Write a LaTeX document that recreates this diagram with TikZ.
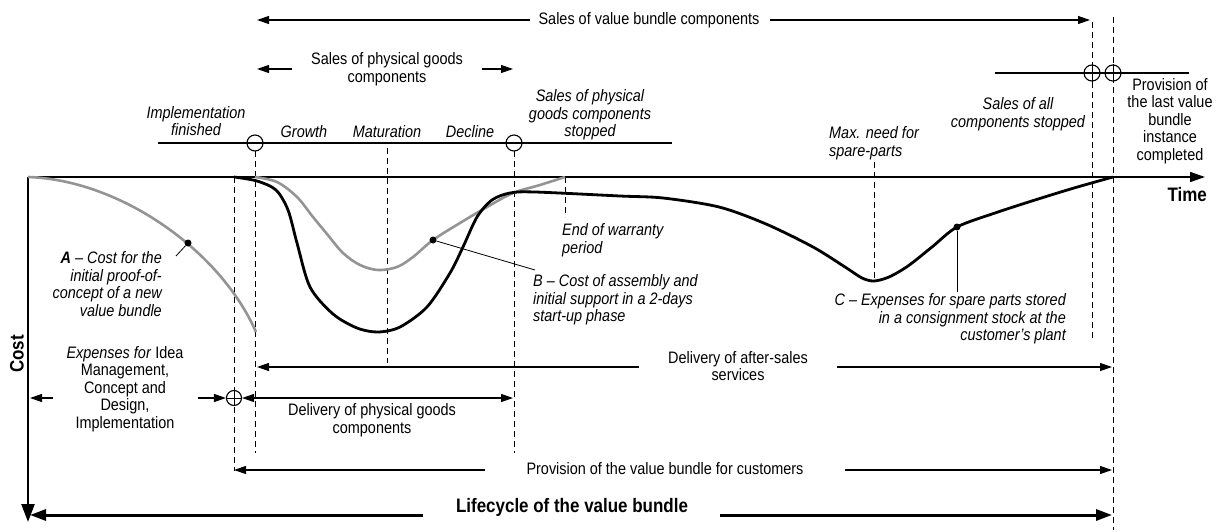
\documentclass[tikz,border=0pt]{standalone}
\usepackage{fontspec}
\setmainfont[FakeStretch=0.87]{Liberation Sans}
\usetikzlibrary{arrows.meta}
\begin{document}
\begin{tikzpicture}[x=1pt,y=-1pt,
  txt/.style={font=\fontsize{16.6}{17.5}\selectfont, inner sep=0pt, align=center},
  itx/.style={font=\fontsize{16.6}{17.5}\selectfont\itshape, inner sep=0pt, align=center},
  bld/.style={font=\fontsize{19.5}{21}\selectfont\bfseries, inner sep=0pt},
  arr/.style={line width=1.2pt, -{Triangle[length=12pt,width=8pt]}},
  bigarr/.style={line width=3pt, -{Triangle[length=16pt,width=11pt]}},
  dsh/.style={line width=0.9pt, dash pattern=on 6pt off 4pt},
  circ/.style={circle, draw, line width=1.1pt, minimum size=16pt, inner sep=0pt},
  dot/.style={circle, fill=black, minimum size=7pt, inner sep=0pt},
  thinl/.style={line width=1.2pt},
  grayc/.style={line width=2.6pt, color=black!42},
  blackc/.style={line width=2.8pt, color=black}
]
\useasboundingbox (0,0) rectangle (1220,532);

% ---------- axes ----------
\coordinate (O) at (28,177);
\coordinate (TimeTip) at (1205,177);
\coordinate (CostTip) at (28,522);
\draw[line width=1.5pt, -{Triangle[length=15pt,width=10pt]}] (O) -- (TimeTip);
\draw[line width=2.6pt, -{Triangle[length=18pt,width=13pt]}] (O) -- (CostTip);
\node[bld, anchor=east] (time) at (1207,195) {Time};
\node[bld, rotate=90] (cost) at (17,354) {Cost};

% ---------- vertical dashed lines ----------
\coordinate (d1t) at (234,177); \coordinate (d1b) at (234,471);
\coordinate (d2t) at (255,151); \coordinate (d2b) at (255,453);
\coordinate (d3t) at (387,148); \coordinate (d3b) at (387,363);
\coordinate (d4t) at (514,151); \coordinate (d4b) at (514,453);
\coordinate (d5t) at (565,177); \coordinate (d5b) at (565,217);
\coordinate (d6t) at (874,162); \coordinate (d6b) at (874,280);
\coordinate (d7t) at (1092,22); \coordinate (d7b) at (1092,338);
\coordinate (d8t) at (1113,17); \coordinate (d8b) at (1113,530);
\foreach \i in {1,...,8} {\draw[dsh] (d\i t) -- (d\i b);}

% ---------- curves ----------
\draw[grayc] (28,177) .. controls (120,180) and (220,250) .. (256,332);
\draw[grayc] plot[smooth, tension=0.55] coordinates {(255,177) (277,182) (297,197) (313,217) (327,234) (343,253) (360,265) (378,270) (397,267) (413,257) (433,240) (460,223) (487,207) (513,193) (540,185) (565,177)};
\draw[blackc] plot[smooth, tension=0.5] coordinates {(234,177) (257,181) (276,190) (288,210) (297,243) (310,287) (333,314) (357,328) (378,332) (400,327) (427,307) (450,273) (463,247) (477,217) (492,200) (510,193) (535,192) (620,196) (663,198) (719,207) (766,224) (813,247) (845,267) (862,278) (874,281) (889,277) (908,266) (932,247) (957,227) (995,213) (1035,200) (1074,188) (1113,177)};

% ---------- points and leaders ----------
\node[dot] (dA) at (188,243) {};
\node[dot] (dB) at (433,240) {};
\node[dot] (dC) at (957,227) {};
\coordinate (lA) at (176,256);
\coordinate (lB) at (535,270);
\coordinate (lC) at (957,292);
\draw[line width=0.8pt] (dA) -- (lA);
\draw[line width=0.8pt] (dB) -- (lB);
\draw[line width=0.8pt] (dC) -- (lC);

\node[itx, anchor=east, align=right] (labA) at (162,284) {\textbf{A} -- Cost for the\\initial proof-of-\\concept of a new\\value bundle};
\node[itx, anchor=west, align=left] (labB) at (533,300) {B -- Cost of assembly and\\initial support in a 2-days\\start-up phase};
\node[itx, anchor=east, align=right] (labC) at (1066,319) {C -- Expenses for spare parts stored\\in a consignment stock at the\\customer's plant};
\node[itx, anchor=west, align=left] (warr) at (562,240) {End of warranty\\period};
\node[itx, anchor=west, align=left] (maxn) at (829,143) {Max. need for\\spare-parts};

% ---------- upper timeline ----------
\coordinate (tl1) at (158,143); \coordinate (tl2) at (672,143);
\draw[thinl] (tl1) -- (tl2);
\node[circ] (c1) at (255,143) {};
\node[circ] (c2) at (514,143) {};
\node[itx] (impl) at (196,121) {Implementation\\finished};
\node[itx] (grow) at (304,132) {Growth};
\node[itx] (matu) at (387,132) {Maturation};
\node[itx] (decl) at (470,132) {Decline};
\node[itx] (spgs) at (590,115) {Sales of physical\\goods components\\stopped};

% ---------- right timeline ----------
\coordinate (tr1) at (995,73); \coordinate (tr2) at (1189,73);
\draw[thinl] (tr1) -- (tr2);
\node[circ] (c3) at (1092,73) {};
\node[circ] (c4) at (1113,73) {};
\draw[line width=0.9pt] (c3.north) -- (c3.south);
\draw[line width=0.9pt] (c4.north) -- (c4.south);
\node[itx] (sall) at (1018,114) {Sales of all\\components stopped};
\node[txt] (prov) at (1170,121) {Provision of\\the last value\\bundle\\instance\\completed};

% ---------- top arrows ----------
\node[txt] (svb) at (649,20) {Sales of value bundle components};
\coordinate (svbL) at (257,20); \coordinate (svbLa) at (530,20);
\coordinate (svbR) at (1090,20); \coordinate (svbRa) at (770,20);
\draw[arr] (svbLa) -- (svbL);
\draw[arr] (svbRa) -- (svbR);

\node[txt] (spg) at (387,69) {Sales of physical goods\\components};
\coordinate (spgL) at (257,69); \coordinate (spgLa) at (292,69);
\coordinate (spgR) at (513,69); \coordinate (spgRa) at (482,69);
\draw[arr] (spgLa) -- (spgL);
\draw[arr] (spgRa) -- (spgR);

% ---------- lower arrows ----------
\node[txt] (exp) at (125,389) {\textit{Expenses for} Idea\\Management,\\Concept and\\Design,\\Implementation};
\node[circ, minimum size=15pt] (c5) at (234,398) {};
\draw[line width=0.9pt] (c5.north) -- (c5.south);
\draw[line width=0.9pt] (c5.west) -- (c5.east);
\coordinate (eL) at (30,398); \coordinate (eLa) at (53,398);
\coordinate (eRa) at (198,398);
\draw[arr] (eLa) -- (eL);
\draw[arr] (eRa) -- (c5.west);

\coordinate (dpR) at (513,398);
\draw[arr, {Triangle[length=12pt,width=8pt]}-{Triangle[length=12pt,width=8pt]}] (c5.east) -- (dpR);
\node[txt] (dpg) at (372,420) {Delivery of physical goods\\components};

\node[txt] (das) at (738,366) {Delivery of after-sales\\services};
\coordinate (dasL) at (257,367); \coordinate (dasLa) at (639,367);
\coordinate (dasR) at (1112,367); \coordinate (dasRa) at (837,367);
\draw[arr] (dasLa) -- (dasL);
\draw[arr] (dasRa) -- (dasR);

\node[txt] (pvb) at (665,469) {Provision of the value bundle for customers};
\coordinate (pvbL) at (234,470); \coordinate (pvbLa) at (485,470);
\coordinate (pvbR) at (1112,470); \coordinate (pvbRa) at (845,470);
\draw[arr] (pvbLa) -- (pvbL);
\draw[arr] (pvbRa) -- (pvbR);

\node[bld] (life) at (572,507) {Lifecycle of the value bundle};
\coordinate (lifL) at (30,515); \coordinate (lifLa) at (423,515);
\coordinate (lifR) at (1112,515); \coordinate (lifRa) at (720,515);
\draw[bigarr] (lifLa) -- (lifL);
\draw[bigarr] (lifRa) -- (lifR);
\end{tikzpicture}
\end{document}
